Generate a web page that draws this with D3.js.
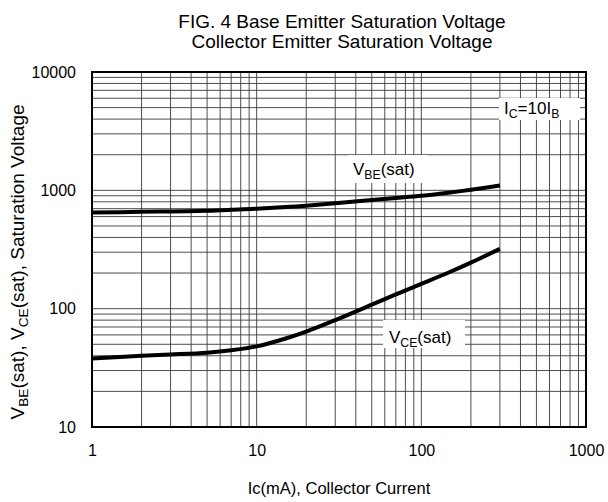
<!DOCTYPE html>
<html><head><meta charset="utf-8">
<script src="https://cdn.jsdelivr.net/npm/d3@7"></script>
<style>body{margin:0;background:#fff}text{font-family:"Liberation Sans",Arial,sans-serif;fill:#000}</style>
</head><body><svg id="c" width="608" height="502"></svg>
<script>
const current = [1, 2, 3, 5, 7, 10, 15, 20, 30, 50, 70, 100, 150, 200, 300];
const vbeSat = [650, 658, 664, 672, 684, 700, 722, 742, 778, 828, 862, 900, 960, 1012, 1100];
const vceSat = [38, 40, 41, 42.5, 44.5, 48, 56, 64, 80, 108, 132, 162, 205, 245, 320];
const xTicks = [1, 10, 100, 1000];
const yTicks = [10, 100, 1000, 10000];

const svg = d3.select("#c");
const L = 92, R = 586, T = 72, B = 427;
const x = d3.scaleLog().domain([1, 1000]).range([L, R]);
const y = d3.scaleLog().domain([10, 10000]).range([B, T]);

// grid
const gx = [], gy = [];
for (let d = 1; d < 1000; d *= 10) for (let k = 1; k <= 9; k++) { if (d * k > 1) gx.push(d * k); }
for (let d = 10; d < 10000; d *= 10) for (let k = 1; k <= 9; k++) { if (d * k > 10) gy.push(d * k); }
const grid = svg.append("g").attr("stroke", "#3a3a3a").attr("stroke-width", 0.9);
grid.selectAll("line.v").data(gx).join("line").attr("x1", d => x(d)).attr("x2", d => x(d)).attr("y1", T).attr("y2", B);
grid.selectAll("line.h").data(gy).join("line").attr("y1", d => y(d)).attr("y2", d => y(d)).attr("x1", L).attr("x2", R);

// label background boxes
const boxes = [[499, 98, 81, 22], [348, 155, 80, 28], [383, 320, 82, 28]];
svg.selectAll("rect.bx").data(boxes).join("rect").attr("x", d => d[0]).attr("y", d => d[1]).attr("width", d => d[2]).attr("height", d => d[3]).attr("fill", "#fff");

// curves
const line = d3.line().x((d, i) => x(current[i])).y(d => y(d)).curve(d3.curveCatmullRom);
svg.append("path").attr("d", line(vbeSat)).attr("fill", "none").attr("stroke", "#000").attr("stroke-width", 4);
svg.append("path").attr("d", line(vceSat)).attr("fill", "none").attr("stroke", "#000").attr("stroke-width", 4);

// frame
svg.append("rect").attr("x", L).attr("y", T).attr("width", R - L).attr("height", B - T).attr("fill", "none").attr("stroke", "#000").attr("stroke-width", 2);

// axes (tick labels only)
const xa = svg.append("g").attr("transform", `translate(0,${B})`).call(d3.axisBottom(x).tickValues(xTicks).tickFormat(d3.format("d")).tickSize(0).tickPadding(18));
const ya = svg.append("g").attr("transform", `translate(${L},0)`).call(d3.axisLeft(y).tickValues(yTicks).tickFormat(d3.format("d")).tickSize(0).tickPadding(16));
[xa, ya].forEach(a => { a.select(".domain").remove(); a.selectAll("text").attr("font-size", 16).attr("font-family", "Liberation Sans, Arial, sans-serif"); });

// titles
const t = svg.append("text").attr("text-anchor", "middle").attr("font-size", 19);
t.append("tspan").attr("x", 342).attr("y", 28).text("FIG. 4 Base Emitter Saturation Voltage");
t.append("tspan").attr("x", 342).attr("y", 48).text("Collector Emitter Saturation Voltage");

svg.append("text").attr("x", 339).attr("y", 494).attr("text-anchor", "middle").attr("font-size", 16.5).text("Ic(mA), Collector Current");

function sub(sel, parts, fs) {
  parts.forEach(p => {
    const ts = sel.append("tspan").text(p[0]);
    if (p[1] === "sub") ts.attr("font-size", fs * 0.72).attr("dy", 4);
    else if (p[1] === "up") ts.attr("dy", -4);
  });
}
const yl = svg.append("text").attr("transform", "translate(24,262) rotate(-90)").attr("text-anchor", "middle").attr("font-size", 19);
sub(yl, [["V"], ["BE", "sub"], ["(sat), V", "up"], ["CE", "sub"], ["(sat), Saturation Voltage", "up"]], 19);

const l1 = svg.append("text").attr("x", 504).attr("y", 114).attr("font-size", 17);
sub(l1, [["I"], ["C", "sub"], ["=10I", "up"], ["B", "sub"]], 17);
const l2 = svg.append("text").attr("x", 353).attr("y", 175).attr("font-size", 17);
sub(l2, [["V"], ["BE", "sub"], ["(sat)", "up"]], 17);
const l3 = svg.append("text").attr("x", 389).attr("y", 343).attr("font-size", 17);
sub(l3, [["V"], ["CE", "sub"], ["(sat)", "up"]], 17);
</script></body></html>
